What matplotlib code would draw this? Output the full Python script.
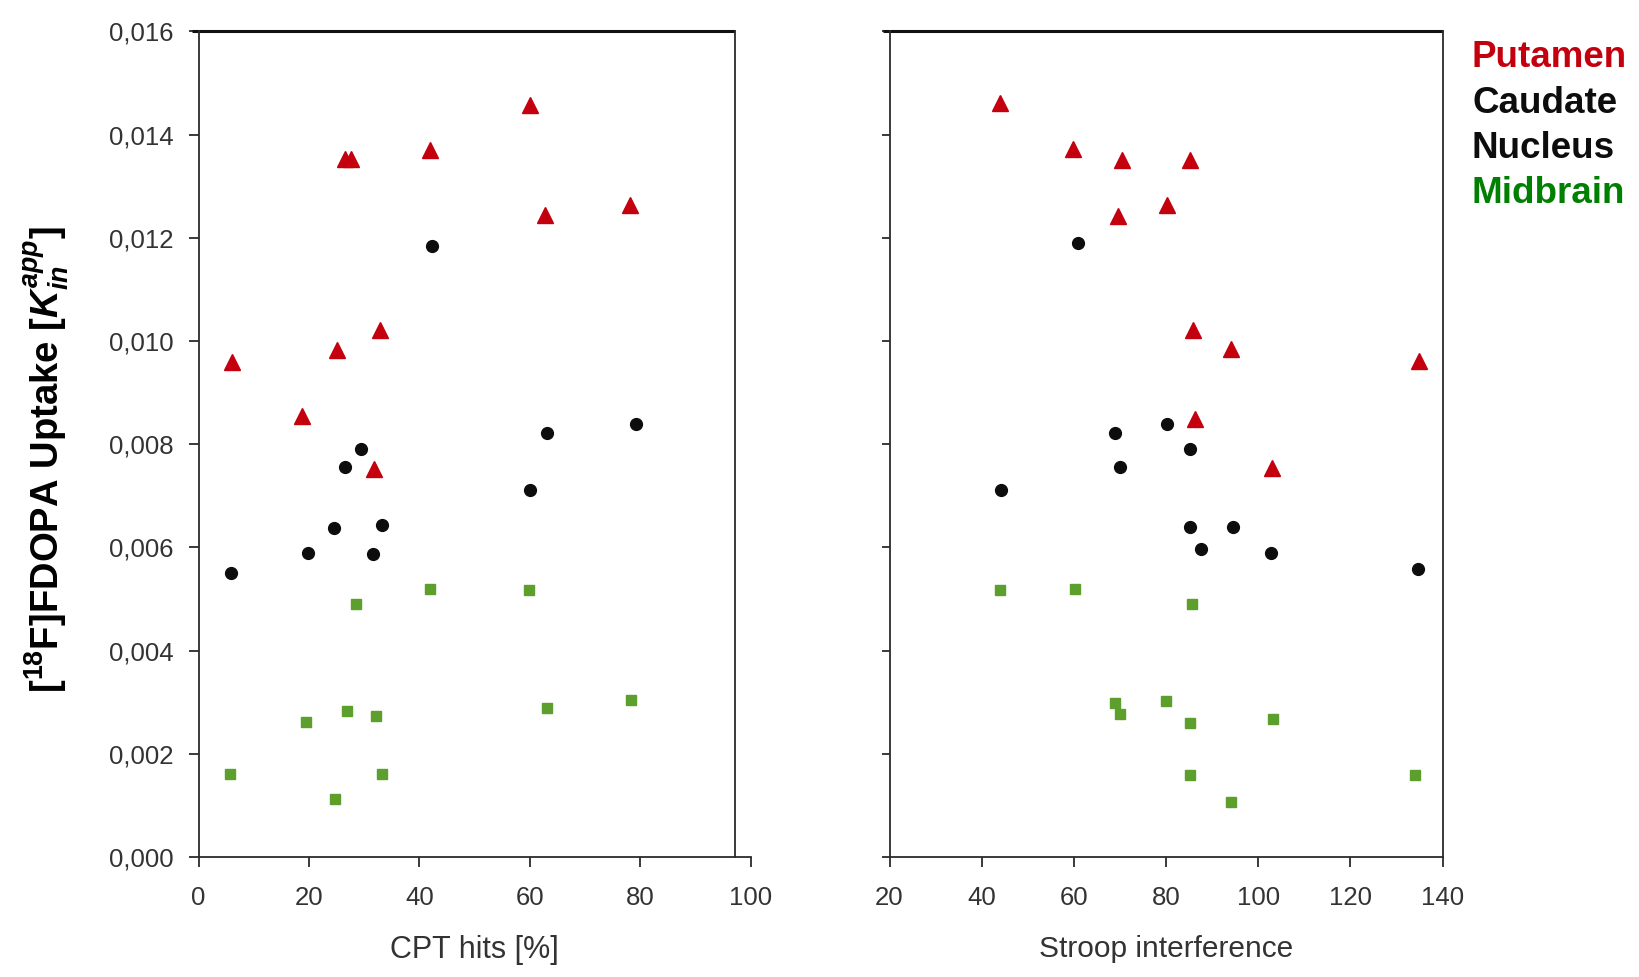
import matplotlib
matplotlib.use("Agg")
import matplotlib.pyplot as plt
from matplotlib.ticker import FixedLocator, FuncFormatter

plt.rcParams['font.family'] = ['Liberation Sans', 'DejaVu Sans']
plt.rcParams['mathtext.fontset'] = 'custom'
plt.rcParams['mathtext.rm'] = 'Liberation Sans:bold'
plt.rcParams['mathtext.bf'] = 'Liberation Sans:bold'
plt.rcParams['mathtext.it'] = 'Liberation Sans:italic:bold'

# ---- data ----
cpt_putamen = [6.1, 18.75, 25.0, 26.5, 27.7, 32.8, 31.8, 41.9, 60.0, 62.7, 78.2]
put_cpt_y = [0.0096, 0.00855, 0.00982, 0.01353, 0.01353, 0.01021, 0.00751, 0.01371, 0.01458, 0.01244, 0.01264]

cpt_caudate = [5.9, 19.9, 24.6, 26.5, 29.4, 31.6, 33.3, 42.2, 60.0, 63.1, 79.2]
cau_cpt_y = [0.00551, 0.00589, 0.00638, 0.00755, 0.0079, 0.00587, 0.00644, 0.01185, 0.00711, 0.00822, 0.0084]

cpt_midbrain = [5.7, 19.5, 24.8, 26.9, 28.6, 32.2, 33.3, 42.0, 59.8, 63.1, 78.4]
mid_cpt_y = [0.0016, 0.00261, 0.00113, 0.00282, 0.0049, 0.00273, 0.0016, 0.0052, 0.00518, 0.00288, 0.00304]

stroop_putamen = [44.05, 59.9, 70.4, 85.3, 69.5, 80.3, 85.8, 94.0, 134.8, 86.2, 103.0]
put_str_y = [0.01462, 0.01373, 0.01351, 0.01351, 0.01242, 0.01264, 0.01021, 0.00984, 0.00962, 0.00849, 0.00753]

stroop_caudate = [44.3, 60.8, 69.0, 70.1, 80.3, 85.3, 85.3, 87.6, 94.6, 102.8, 134.6]
cau_str_y = [0.00711, 0.01189, 0.00822, 0.00755, 0.0084, 0.0079, 0.0064, 0.00597, 0.0064, 0.00589, 0.00559]

stroop_midbrain = [44.05, 60.2, 85.6, 69.0, 70.1, 80.1, 85.3, 103.3, 85.1, 134.1, 94.2]
mid_str_y = [0.00518, 0.0052, 0.0049, 0.00298, 0.00277, 0.00302, 0.00259, 0.00267, 0.00158, 0.00158, 0.00107]

y_ticks = [0.0, 0.002, 0.004, 0.006, 0.008, 0.010, 0.012, 0.014, 0.016]
cpt_ticks = [0, 20, 40, 60, 80, 100]
stroop_ticks = [20, 40, 60, 80, 100, 120, 140]
legend_labels = ["Putamen", "Caudate", "Nucleus", "Midbrain"]

RED = "#c4000f"
BLACK = "#0d0d0d"
GREEN = "#5c9f2c"
AXC = "#2b2b2b"
TXT = "#333333"

W, H = 1639, 977
fig = plt.figure(figsize=(W / 100, H / 100), dpi=100)
fig.patch.set_facecolor("white")

def frac(x0, y0, x1, y1):
    return [x0 / W, 1 - y1 / H, (x1 - x0) / W, (y1 - y0) / H]

ax1 = fig.add_axes(frac(198.6, 31.4, 750.5, 857))
ax2 = fig.add_axes(frac(889.5, 31.4, 1442.5, 857))

def style(ax, xticks, xlim, labels_y=True, right_at=None):
    ax.set_facecolor("none")
    ax.set_xlim(*xlim)
    ax.set_ylim(0, 0.016)
    ax.xaxis.set_major_locator(FixedLocator(xticks))
    ax.yaxis.set_major_locator(FixedLocator(y_ticks))
    ax.yaxis.set_major_formatter(FuncFormatter(lambda v, p: ("%.3f" % v).replace(".", ",")))
    for s in ["left", "bottom"]:
        ax.spines[s].set_color(AXC)
        ax.spines[s].set_linewidth(1.3)
    ax.spines["top"].set_visible(False)
    ax.spines["right"].set_visible(False)
    ax.tick_params(axis="both", direction="out", length=7, width=1.3, color=AXC,
                   labelsize=18.5, labelcolor=TXT)
    ax.tick_params(axis="x", pad=14)
    ax.tick_params(axis="y", pad=11)
    if not labels_y:
        ax.tick_params(axis="y", labelleft=False, length=6)
    r = xlim[1] if right_at is None else right_at
    rf = (r - xlim[0]) / (xlim[1] - xlim[0])
    ax.plot([-0.012, rf], [1, 1], transform=ax.transAxes, color="#111111", lw=2.2,
            clip_on=False, solid_capstyle="butt")
    ax.plot([rf, rf], [0, 1], transform=ax.transAxes, color=AXC, lw=1.3,
            clip_on=False)

style(ax1, cpt_ticks, (0, 100), True, right_at=97.2)
style(ax2, stroop_ticks, (20, 140), False)

mk = dict(linestyle="none", clip_on=False)
ax1.plot(cpt_midbrain, mid_cpt_y, marker="s", ms=7.5, color=GREEN, mec=GREEN, **mk)
ax1.plot(cpt_caudate, cau_cpt_y, marker="o", ms=8.5, color=BLACK, mec=BLACK, **mk)
ax1.plot(cpt_putamen, put_cpt_y, marker="^", ms=11, color=RED, mec=RED, **mk)

ax2.plot(stroop_midbrain, mid_str_y, marker="s", ms=7.5, color=GREEN, mec=GREEN, **mk)
ax2.plot(stroop_caudate, cau_str_y, marker="o", ms=8.5, color=BLACK, mec=BLACK, **mk)
ax2.plot(stroop_putamen, put_str_y, marker="^", ms=11, color=RED, mec=RED, **mk)

ax1.set_xlabel("CPT hits [%]", fontsize=22, color=TXT, labelpad=18)
ax2.set_xlabel("Stroop interference", fontsize=21.5, color=TXT, labelpad=18)

fig.text(47 / W, 1 - 460 / H, r"[$^{18}$F]FDOPA Uptake [$K_{in}^{app}$]",
         rotation=90, ha="center", va="center", fontsize=27.5, fontweight="bold",
         color="black")

leg_colors = [RED, BLACK, BLACK, "#008000"]
leg_y = [57.5, 103.5, 148.4, 193.4]
for lab, c, yy in zip(legend_labels, leg_colors, leg_y):
    fig.text(1472 / W, 1 - yy / H, lab, ha="left", va="center", fontsize=26.5,
             fontweight="bold", color=c)

fig.savefig("out.png", dpi=100, facecolor=fig.get_facecolor())
